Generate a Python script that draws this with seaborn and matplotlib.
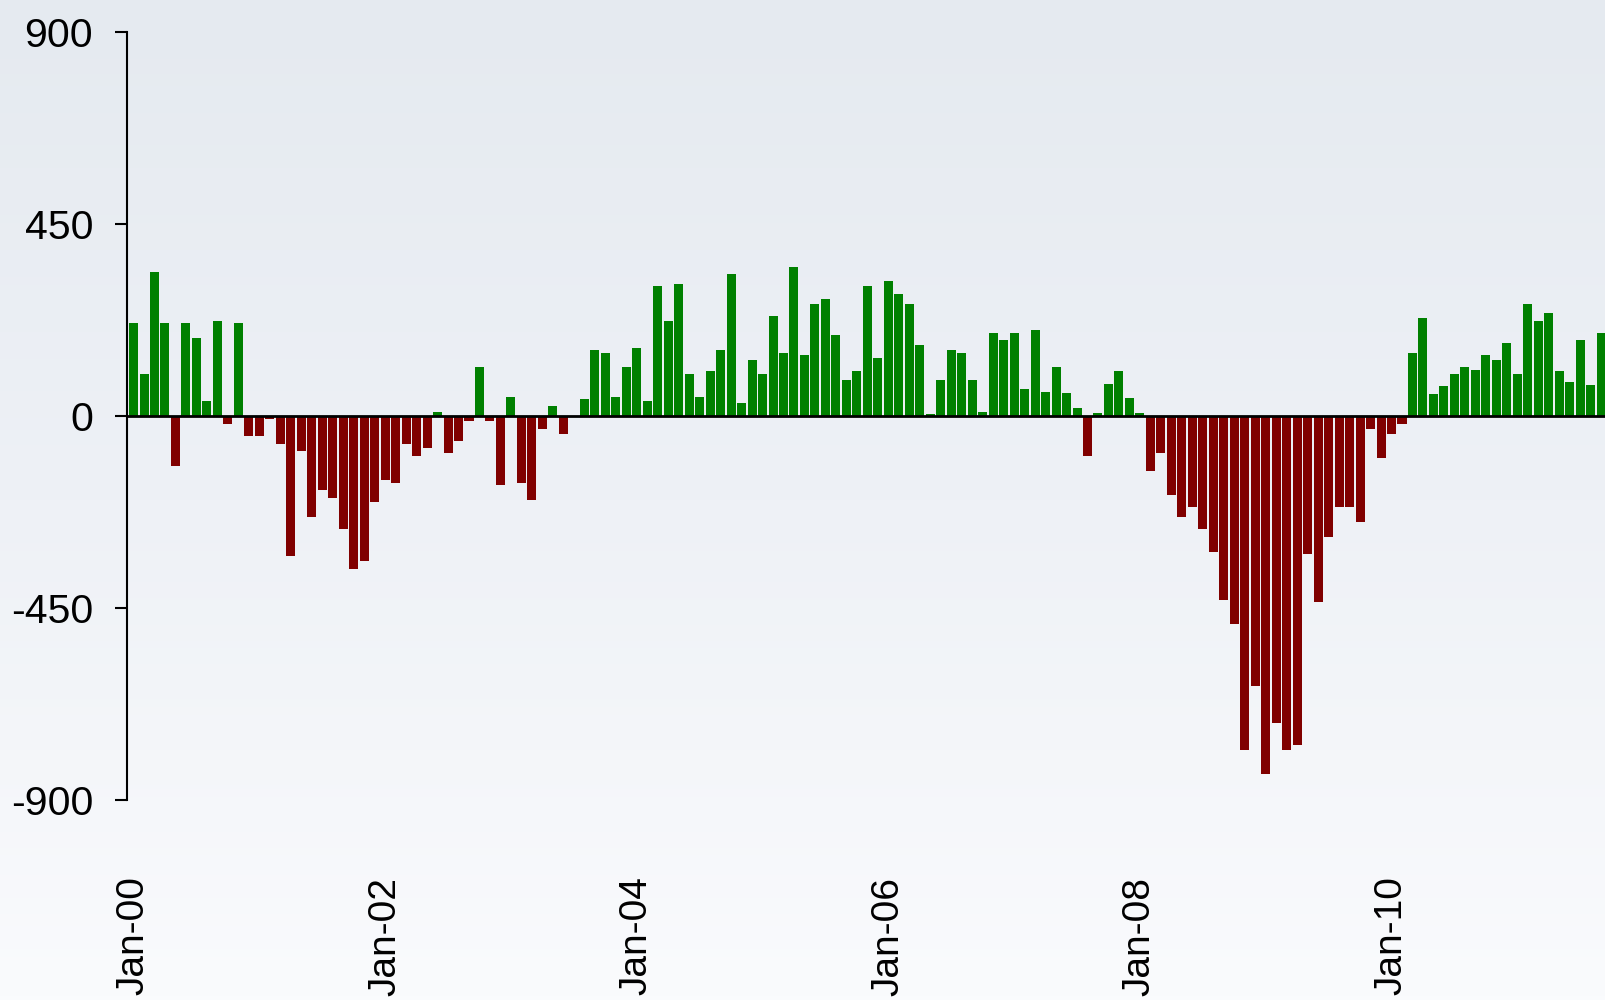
import numpy as np
import pandas as pd
import seaborn as sns
import matplotlib.pyplot as plt
from matplotlib.colors import LinearSegmentedColormap

# monthly change, Jan-2000 .. Sep-2011
changes = [
    218, 97, 337, 218, -118, 218, 183, 34, 223, -19, 218, -48,
    -48, -8, -66, -328, -83, -237, -174, -192, -265, -358, -340, -202,
    -150, -157, -66, -94, -76, 10, -87, -59, -12, 115, -12, -162,
    45, -157, -197, -31, 22, -43, 0, 40, 155, 148, 45, 115,
    160, 34, 305, 223, 309, 97, 45, 104, 155, 333, 29, 132,
    97, 234, 148, 349, 143, 263, 274, 190, 85, 104, 305, 136,
    316, 286, 263, 167, 5, 85, 155, 148, 85, 10, 195, 178,
    195, 62, 202, 57, 115, 53, 18, -93, 6, 74, 105, 41,
    6, -129, -86, -185, -236, -213, -264, -318, -432, -488, -783, -633,
    -839, -720, -783, -771, -323, -437, -283, -213, -213, -248, -30, -99,
    -43, -19, 148, 230, 52, 69, 97, 115, 108, 143, 132, 171,
    97, 263, 223, 242, 104, 80, 178, 73, 195,
]
months = pd.date_range('2000-01-01', periods=len(changes), freq='MS')
y_ticks = [-900, -450, 0, 450, 900]

df = pd.DataFrame({'month': months.strftime('%b-%y'), 'change': changes})
df['sign'] = np.where(df['change'] >= 0, 'up', 'down')

sns.set_style('white')
plt.rcParams['font.family'] = ['Liberation Sans', 'DejaVu Sans']

fig = plt.figure(figsize=(16.06, 10), dpi=100)

# soft background gradient behind everything
bg = fig.add_axes([0, 0, 1, 1], zorder=0)
grad = np.linspace(0, 1, 256).reshape(-1, 1)
bg_cmap = LinearSegmentedColormap.from_list('bg', ['#e5eaf0', '#eef1f6', '#fafbfd'])
bg.imshow(grad, aspect='auto', cmap=bg_cmap, extent=[0, 1, 0, 1])
bg.axis('off')

ax = fig.add_axes([0.0793, 0.1846, 0.9207, 0.7991], zorder=1)
ax.patch.set_alpha(0)

sns.barplot(data=df, x='month', y='change', hue='sign',
            palette={'up': '#008000', 'down': '#800000'},
            order=list(df['month']), dodge=False, width=0.86,
            saturation=1, linewidth=0, legend=False, ax=ax)

ax.axhline(0, color='black', lw=2, zorder=3)

ax.set_xlim(-0.59, 140.46)
ax.set_ylim(-936, 936)
ax.set_yticks(y_ticks)
ax.set_yticklabels([str(v) for v in y_ticks])
tick_pos = list(range(0, len(changes), 24))
ax.set_xticks(tick_pos)
ax.set_xticklabels(df['month'].iloc[tick_pos], rotation=90)

for side in ['top', 'right', 'bottom']:
    ax.spines[side].set_visible(False)
ax.spines['left'].set_bounds(-900, 900)
ax.spines['left'].set_linewidth(1.5)
ax.spines['left'].set_color('black')

ax.tick_params(axis='y', length=8.6, width=1.5, pad=16, labelsize=29.5,
               color='black', labelcolor='black', left=True)
ax.tick_params(axis='x', length=0, pad=44, labelsize=28, labelcolor='black')
ax.set_xlabel('')
ax.set_ylabel('')

fig.savefig('out.png', dpi=100)
